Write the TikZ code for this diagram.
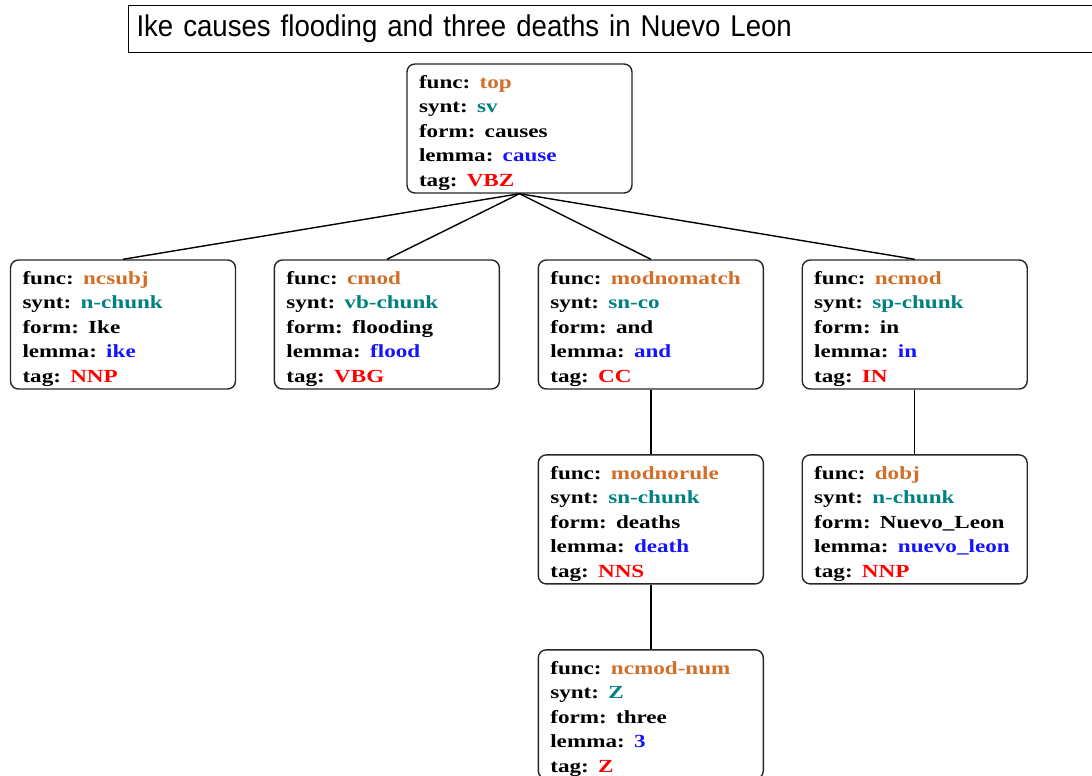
\documentclass[tikz,border=0pt]{standalone}
\usepackage{fontspec}
\setmainfont{Liberation Serif}
\newfontfamily\featfont[FakeStretch=1.25]{Liberation Serif}
\newfontfamily\titlefont[FakeStretch=0.92]{Liberation Sans}
\usetikzlibrary{positioning}
\definecolor{funccol}{RGB}{210,110,40}
\definecolor{syntcol}{RGB}{0,128,128}
\definecolor{lemmacol}{RGB}{20,20,255}
\definecolor{tagcol}{RGB}{255,0,0}
\tikzset{
  feat/.style={draw=black!85, line width=1.4pt, rounded corners=8pt,
    minimum width=225pt, minimum height=129pt, text width=201pt,
    align=left, inner xsep=12pt, inner ysep=0pt,
    font=\featfont\bfseries\fontsize{18.5}{24.5}\selectfont},
  arc/.style={line width=1.4pt}
}
\newcommand{\featlines}[5]{\rule{0pt}{22pt}func: \textcolor{funccol}{#1}\\
  synt: \textcolor{syntcol}{#2}\\
  form: #3\\
  lemma: \textcolor{lemmacol}{#4}\\
  tag: \textcolor{tagcol}{#5}}

\begin{document}
\begin{tikzpicture}[x=1pt,y=-1pt]
    \useasboundingbox (0,0) rectangle (1092,776);
    \node[draw, line width=1pt, anchor=north west, minimum height=47pt,
      text width=956pt, align=left, inner xsep=8pt,
      font=\titlefont\fontsize{30}{34}\selectfont] (title) at (128,5)
      {\raisebox{-2pt}{Ike causes flooding and three deaths in Nuevo Leon}};

    \node[feat] (top) at (519.5,128.5) {\featlines{top}{sv}{causes}{cause}{VBZ}};

    \node[feat] (ncsubj) at (123,324.5) {\featlines{ncsubj}{n-chunk}{Ike}{ike}{NNP}};
    \node[feat, right=37.5pt of ncsubj] (cmod) {\featlines{cmod}{vb-chunk}{flooding}{flood}{VBG}};
    \node[feat, right=37.5pt of cmod] (modnomatch) {\featlines{modnomatch}{sn-co}{and}{and}{CC}};
    \node[feat, right=37.5pt of modnomatch] (ncmod) {\featlines{ncmod}{sp-chunk}{in}{in}{IN}};

    \node[feat, below=64.5pt of modnomatch] (modnorule) {\featlines{modnorule}{sn-chunk}{deaths}{death}{NNS}};
    \node[feat, below=64.5pt of ncmod] (dobj) {\featlines{dobj}{n-chunk}{Nuevo\_Leon}{nuevo\_leon}{NNP}};
    \node[feat, below=64.5pt of modnorule] (ncmodnum) {\featlines{ncmod-num}{Z}{three}{3}{Z}};

    \draw[arc] (top.south) -- (ncsubj.north);
    \draw[arc] (top.south) -- (cmod.north);
    \draw[arc] (top.south) -- (modnomatch.north);
    \draw[arc] (top.south) -- (ncmod.north);
    \draw[arc] (modnomatch.south) -- (modnorule.north);
    \draw[arc] (ncmod.south) -- (dobj.north);
    \draw[arc] (modnorule.south) -- (ncmodnum.north);
\end{tikzpicture}
\end{document}
